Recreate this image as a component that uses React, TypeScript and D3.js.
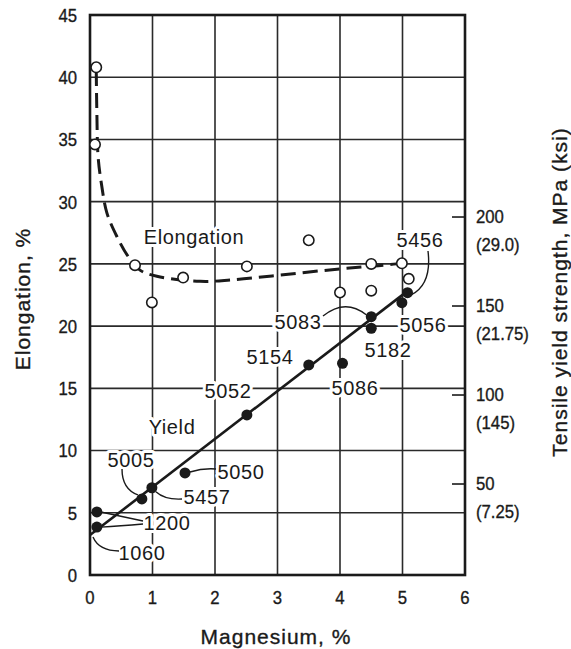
import React from 'react';
import * as d3 from 'd3';

const W = 571;
const H = 649;

// axis ticks
const xTicks = [0, 1, 2, 3, 4, 5, 6];
const yTicks = [0, 5, 10, 15, 20, 25, 30, 35, 40, 45];
const mpaTicks = [50, 100, 150, 200];
const ksiLabels = ['(7.25)', '(145)', '(21.75)', '(29.0)'];

// elongation (open circles)
const elongMg = [0.1, 0.08, 0.72, 0.99, 1.49, 2.51, 3.5, 4.0, 4.5, 4.5, 4.99, 5.1];
const elongPct = [40.8, 34.6, 24.9, 21.9, 23.9, 24.8, 26.9, 22.7, 25.0, 22.85, 25.05, 23.8];

// elongation trend curve (dashed)
const curveMg = [0.1, 0.11, 0.13, 0.19, 0.27, 0.43, 0.61, 0.8, 1.07, 1.76, 2.24, 3.04, 4.0, 4.48, 4.9, 5.0];
const curvePct = [40.5, 37.1, 33.6, 31.2, 29.1, 27.2, 25.6, 24.5, 24.0, 23.6, 23.7, 24.1, 24.6, 24.8, 25.0, 25.1];

// yield strength (filled circles), MPa
const yieldMg = [0.11, 0.11, 0.83, 0.99, 1.52, 2.51, 3.5, 4.04, 4.5, 4.5, 4.99, 5.08];
const yieldMPa = [34.3, 25.8, 41.6, 47.9, 56.2, 88.8, 116.9, 117.8, 144, 137.5, 151.9, 157.5];

// yield trend line
const yieldLineMg = [0, 5.12];
const yieldLineMPa = [21.3, 159.5];

// alloy names
const alloyNames = ['1060', '1200', '5005', '5457', '5050', '5052', '5154', '5086', '5083', '5182', '5056', '5456'];

// layout of annotation labels (px) and leader lines (px, to yield point index)
const labelPos: Record<string, [number, number]> = {
  '1060': [142, 553],
  '1200': [167, 523],
  '5005': [131, 460],
  '5457': [207, 497],
  '5050': [241, 472],
  '5052': [228, 391],
  '5154': [270, 357],
  '5086': [355, 388],
  '5083': [298, 322],
  '5182': [388, 350],
  '5056': [423, 325],
  '5456': [420, 240],
};

type Leader = { target: number; from: [number, number]; ctrl: [number, number]; dx: number; dy: number };
const leaders: Leader[] = [
  { target: -1, from: [119, 551], ctrl: [99, 551], dx: 3, dy: 2 },
  { target: 0, from: [143, 521], ctrl: [120, 516], dx: 4, dy: 0 },
  { target: 1, from: [143, 524], ctrl: [120, 526], dx: 4, dy: 0 },
  { target: 2, from: [122, 469], ctrl: [122, 489], dx: -4, dy: -4 },
  { target: 3, from: [182, 499], ctrl: [165, 500], dx: 4, dy: 4 },
  { target: 4, from: [216, 469], ctrl: [203, 468], dx: 5, dy: -1 },
  { target: 8, from: [323, 316], ctrl: [345, 298], dx: -5, dy: -2 },
  { target: 11, from: [428, 251], ctrl: [432, 284], dx: 4, dy: 2 },
];

const x = d3.scaleLinear().domain([0, 6]).range([90, 465]);
const y = d3.scaleLinear().domain([0, 45]).range([575, 15]);
const yM = d3.scaleLinear().domain([0, 313.5]).range([573, 15]);

const FONT = '"Liberation Sans", Arial, Helvetica, sans-serif';
const INK = '#1a1a1a';

export default function App() {
  const curvePath = d3
    .line<number>()
    .x((_, i) => x(curveMg[i]))
    .y((_, i) => y(curvePct[i]))
    .curve(d3.curveCatmullRom.alpha(0.5))(curveMg) as string;

  const yieldPath = d3
    .line<number>()
    .x((_, i) => x(yieldLineMg[i]))
    .y((_, i) => yM(yieldLineMPa[i]))(yieldLineMg) as string;

  const leaderPath = (l: Leader) => {
    const tx = l.target < 0 ? x(yieldLineMg[0]) : x(yieldMg[l.target]);
    const ty = l.target < 0 ? yM(yieldLineMPa[0]) : yM(yieldMPa[l.target]);
    const p = d3.path();
    p.moveTo(l.from[0], l.from[1]);
    p.quadraticCurveTo(l.ctrl[0], l.ctrl[1], tx + l.dx, ty + l.dy);
    return p.toString();
  };

  const [x0, x1] = x.range();
  const [y0, y1] = y.range();

  return (
    <svg width={W} height={H} style={{ position: 'absolute', left: 0, top: 0, background: '#fff' }} fontFamily={FONT}>
      <rect width={W} height={H} fill="#fff" />
      {/* grid */}
      <g stroke="#2a2a2a" strokeWidth={1.6}>
        {xTicks.map((t) => (
          <line key={'gx' + t} x1={x(t)} x2={x(t)} y1={y1} y2={y0} />
        ))}
        {yTicks.map((t) => (
          <line key={'gy' + t} x1={x0} x2={x1} y1={y(t)} y2={y(t)} />
        ))}
      </g>
      <rect x={x0} y={y1} width={x1 - x0} height={y0 - y1} fill="none" stroke={INK} strokeWidth={2.6} />

      {/* right axis ticks */}
      <g stroke={INK} strokeWidth={1.6}>
        {mpaTicks.map((t) => (
          <line key={'rt' + t} x1={x1 - 13} x2={x1} y1={yM(t)} y2={yM(t)} />
        ))}
      </g>

      {/* tick labels */}
      <g fill={INK} fontSize={19} stroke={INK} strokeWidth={0.35}>
        {yTicks.map((t) => (
          <text key={'yl' + t} transform={`translate(77,${y(t)}) scale(0.88,1)`} textAnchor="end" dy="0.36em">
            {t}
          </text>
        ))}
        {xTicks.map((t) => (
          <text key={'xl' + t} transform={`translate(${x(t)},${597}) scale(0.88,1)`} textAnchor="middle" dy="0.36em">
            {t}
          </text>
        ))}
        {mpaTicks.map((t, i) => (
          <g key={'rl' + t}>
            <text transform={`translate(476,${yM(t) - 1}) scale(0.88,1)`} dy="0.36em">
              {t}
            </text>
            <text transform={`translate(476,${yM(t) + 27}) scale(0.88,1)`} dy="0.36em">
              {ksiLabels[i]}
            </text>
          </g>
        ))}
      </g>

      {/* axis titles */}
      <g fill={INK} fontSize={21} letterSpacing={1} stroke={INK} strokeWidth={0.35}>
        <text x={276} y={644} textAnchor="middle">Magnesium, %</text>
        <text transform="translate(30,299) rotate(-90)" textAnchor="middle">Elongation, %</text>
        <text transform="translate(567,292) rotate(-90)" textAnchor="middle">Tensile yield strength, MPa (ksi)</text>
      </g>

      {/* annotation labels with white halo */}
      <g fill={INK} fontSize={20} letterSpacing={0.6} stroke="#fff" strokeWidth={6} paintOrder="stroke" strokeLinejoin="round">
        <text x={194} y={237} dy="0.36em" textAnchor="middle">Elongation</text>
        <text x={172} y={427} dy="0.36em" textAnchor="middle">Yield</text>
        {alloyNames.map((n) => (
          <text key={'al' + n} x={labelPos[n][0]} y={labelPos[n][1]} dy="0.36em" textAnchor="middle">
            {n}
          </text>
        ))}
      </g>

      {/* leaders */}
      <g fill="none" stroke={INK} strokeWidth={1.4}>
        {leaders.map((l, i) => (
          <path key={'ld' + i} d={leaderPath(l)} />
        ))}
      </g>

      {/* curves */}
      <path d={curvePath} fill="none" stroke={INK} strokeWidth={3} strokeDasharray="15 7" />
      <path d={yieldPath} fill="none" stroke={INK} strokeWidth={2.6} />

      {/* markers */}
      {elongMg.map((m, i) => (
        <circle key={'eo' + i} cx={x(m)} cy={y(elongPct[i])} r={5.2} fill="#fff" stroke={INK} strokeWidth={1.6} />
      ))}
      {yieldMg.map((m, i) => (
        <circle key={'yf' + i} cx={x(m)} cy={yM(yieldMPa[i])} r={5.5} fill={INK} />
      ))}
    </svg>
  );
}
